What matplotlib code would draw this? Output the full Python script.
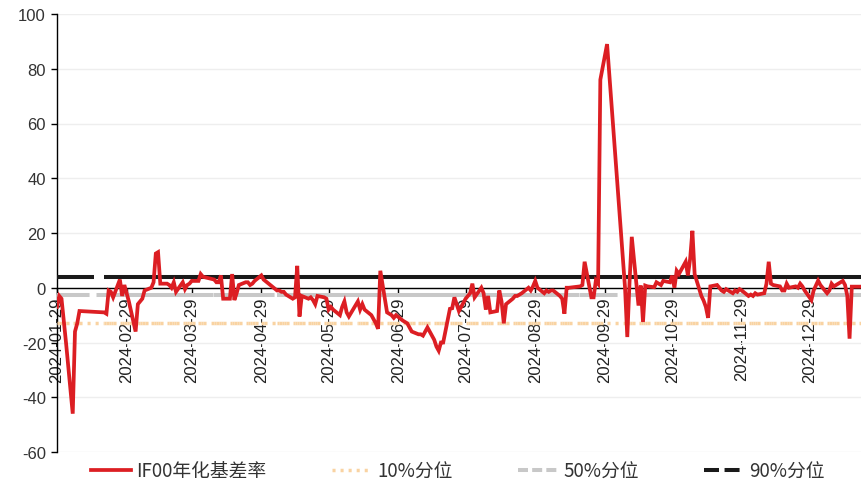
import matplotlib
matplotlib.use("Agg")
import numpy as np
import pandas as pd
import matplotlib.pyplot as plt
import matplotlib.dates as mdates
from matplotlib.collections import LineCollection
from matplotlib.lines import Line2D

plt.rcParams['font.family'] = ['Liberation Sans', 'Noto Sans CJK SC', 'DejaVu Sans']
plt.rcParams['lines.scale_dashes'] = False
plt.rcParams['axes.unicode_minus'] = False

# trading calendar (weekdays minus exchange holidays)
holidays = ['2024-02-09', '2024-02-12', '2024-02-13', '2024-02-14', '2024-02-15',
            '2024-02-16', '2024-04-04', '2024-04-05', '2024-05-01', '2024-05-02',
            '2024-05-03', '2024-06-10', '2024-09-16', '2024-09-17', '2024-10-01',
            '2024-10-02', '2024-10-03', '2024-10-04', '2024-10-07', '2025-01-01']
dates = pd.bdate_range('2024-01-29', '2025-01-21')
dates = dates[~dates.isin(pd.to_datetime(holidays))]

# IF00 annualized basis (%), month by month
jan24 = [-7, -3, -4]
feb24 = [-12, -20, -46, -16, -13, -8.5, -9, -9.5, -1, -1.5, -3.5, 3, -3, 1, -2]
mar24 = [-5, -16, -6, -5, -4, -1, 0, 2, 12.5, 13, 1.5, 1.5, 1, 0, 2, -1.5, 2, -0.5, 1, 1.5, 2.5]
apr24 = [2.5, 5, 4, 3, 2, 2, 4.5, -4, -4, 5, -4.5, -2, 1, 2, 2, 1, 1.5, 2.5, 4.5, 3]
may24 = [-1, -1, -1.5, -1.5, -2.5, -4, -3.5, 8, -10.5, -3, -4, -3.5, -4.5, -6, -3,
         -3.5, -4, -8, -7, -8]
jun24 = [-10, -7, -5, -9, -10.5, -5, -8, -6, -8, -10, -11.5, -13, -15, 6.2, -9, -9.5,
         -10, -11, -10]
jul24 = [-12, -12.5, -13, -14.5, -16, -17, -17, -17.5, -16, -14.5, -19, -21.5, -23, -20,
         -20, -7.7, -7.5, -3.5, -6, -8.5, -4, -3, -2]
aug24 = [1.5, -3.5, 0, -2, -8, -3, -9, -8.5, -1, -5, -13, -6, -4, -3, -3, -2.5, -2, 0,
         -1, 0.5, 2.5, 0]
sep24 = [-2, -1, -1.5, -1, -1, -3, -4, -9.5, 0, 0, 0.5, 1, 9.5, -3.5, -3.5, 2.6, 1.5,
         76, 89]
oct24 = [0, -18, 2, 18.6, -6.5, 0.8, -12.5, 0.8, 0.5, 0.2, 2, 1.5, 1, 2.5, 2, 4.4, 0, 6.2]
nov24 = [5, 9.5, 4.5, 10.6, 20.8, 5, -3, -4.7, -7, -11, 0.5, 1, 0, -1, -1.5, -0.5, -2,
         -1, -1.5, -0.5, -1]
dec24 = [-3, -2.5, -3, -2, -2.5, -2, 1.5, 9.5, 1.5, 1, 0.5, -1, -1, 1.5, 0, 0.5, 0, 1.5,
         0.5, -1, -4.5, -1]
jan25 = [2.6, 1, -2, -1, 1.5, 0.5, 1, 2.5, 1, -3, -18.6, 0.4, 0.4, 0.4]
basis = (jan24 + feb24 + mar24 + apr24 + may24 + jun24 + jul24 + aug24 + sep24
         + oct24 + nov24 + dec24 + jan25)

# percentile levels of the basis
p10 = -12.9
p50 = -2.5
p90 = 3.9

# monthly ticks on the 29th
tick_dates = pd.date_range('2024-01-01', '2024-12-01', freq='MS') + pd.Timedelta(days=28)
yticks = [-60, -40, -20, 0, 20, 40, 60, 80, 100]

fig = plt.figure(figsize=(8.61, 4.85), dpi=100)
ax = fig.add_axes([57 / 861, 32 / 485, 804 / 861, 438 / 485])

# axis frame first: moving a spine resets the ticks
for s in ['top', 'right']:
    ax.spines[s].set_visible(False)
ax.spines['bottom'].set_position(('data', 0))
ax.spines['bottom'].set_color('black')
ax.spines['bottom'].set_linewidth(1)
ax.spines['bottom'].set_zorder(2)
ax.spines['left'].set_color('black')
ax.spines['left'].set_linewidth(1)

x = mdates.date2num(dates.to_pydatetime())
x0 = mdates.date2num(pd.Timestamp('2024-01-29'))
ax.set_xlim(x0 - 0.01, x0 + 358.1)
ax.set_ylim(-60, 100)


def level_line(val, color, lw, dash, z):
    # every segment restarts its dash pattern
    segs = [[(x[i], val), (x[i + 1], val)] for i in range(len(x) - 1)]
    lc = LineCollection(segs, colors=color, linewidths=lw,
                        linestyles=[(0, dash)], capstyle='butt', zorder=z)
    ax.add_collection(lc)


level_line(p10, '#F9D3A2', 2.5, (2.2, 3.6), 3)
level_line(p50, '#C8C8C8', 2.9, (7.6, 5.0), 3)
level_line(p90, '#1A1A1A', 2.9, (10.8, 7.2), 3)
ax.plot(x, basis, color='#DC1E23', lw=2.7, zorder=4, solid_joinstyle='miter')

ax.set_yticks(yticks)
ax.yaxis.grid(True, color='#EEEEEE', lw=1)
ax.set_axisbelow(True)
ax.set_xticks(mdates.date2num(tick_dates.to_pydatetime()))
ax.set_xticklabels([d.strftime('%Y-%m-%d') for d in tick_dates])
ax.tick_params(axis='y', length=4, width=1, pad=4, labelsize=12, colors='black',
               labelcolor='#333333')
ax.tick_params(axis='x', length=4, width=1, pad=2, labelsize=12, colors='black',
               labelcolor='#222222', labelrotation=90)

handles = [
    Line2D([], [], color='#DC1E23', lw=2.7),
    Line2D([], [], color='#F9D3A2', lw=2.5, dashes=(2.2, 3.6)),
    Line2D([], [], color='#C8C8C8', lw=2.9, dashes=(7.2, 3.0)),
    Line2D([], [], color='#1A1A1A', lw=2.9, dashes=(10.8, 4.0)),
]
labels = ['IF00年化基差率', '10%分位', '50%分位', '90%分位']
fig.legend(handles, labels, ncol=4, loc='center', bbox_to_anchor=(0.532, 0.027),
           frameon=False, handlelength=2.1, handletextpad=0.3, columnspacing=3.5,
           prop={'family': ['Noto Sans CJK SC', 'DejaVu Sans'], 'size': 13.5},
           labelcolor='#333333')

fig.savefig('out.png', dpi=100)
